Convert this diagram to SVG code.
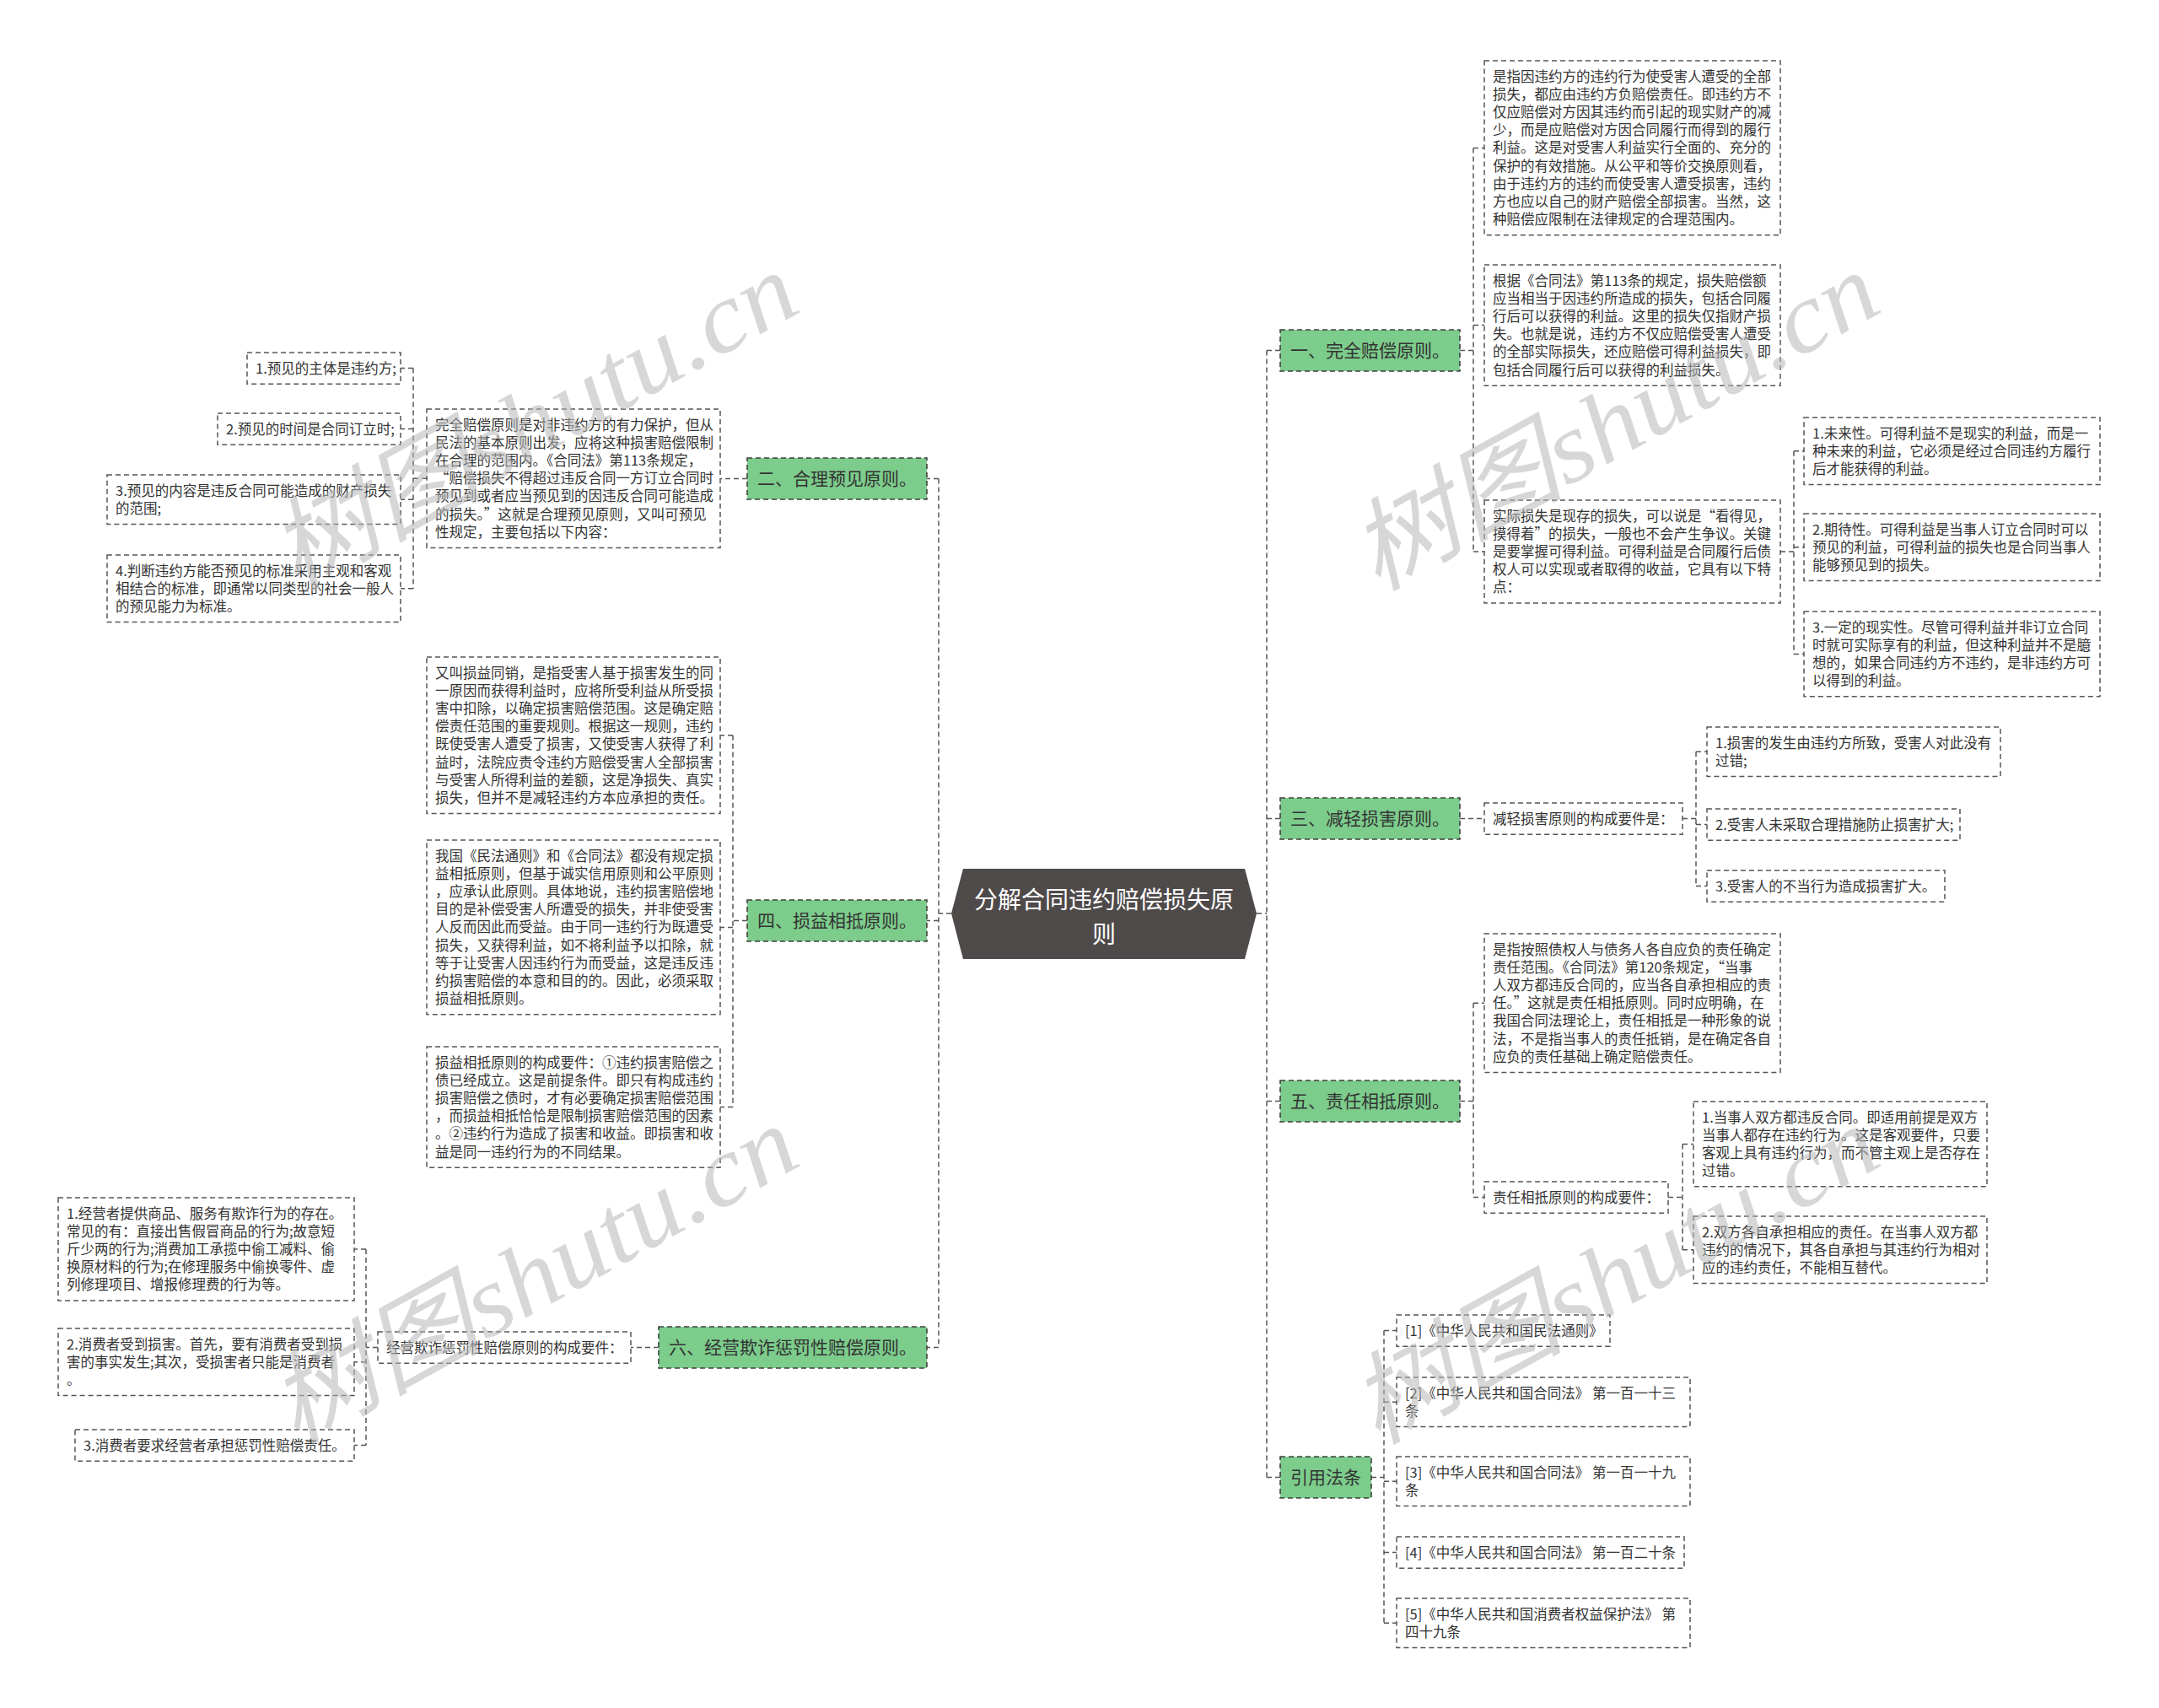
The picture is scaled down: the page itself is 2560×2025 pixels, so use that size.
<svg xmlns="http://www.w3.org/2000/svg" width="2560" height="2025" viewBox="0 0 2560 2025">
<style>
.bg{fill:#ffffff}
.g{fill:#7ccc8b;stroke:#3f3f3f;stroke-width:1.6;stroke-dasharray:6 4}
.b{fill:#ffffff;stroke:#555555;stroke-width:1.5;stroke-dasharray:6 4}
.c{fill:none;stroke:#555555;stroke-width:1.5;stroke-dasharray:6 4}
.t{font-family:"Noto Sans CJK SC","Noto Sans",sans-serif;font-size:16.5px;fill:#333333}
.gt{font-family:"Noto Sans CJK SC","Noto Sans",sans-serif;font-size:21px;fill:#333333}
.ct{font-family:"Noto Sans CJK SC","Noto Sans",sans-serif;font-size:28px;fill:#ffffff;text-anchor:middle}
.wm{font-family:"Liberation Serif","Noto Sans CJK SC",serif;font-style:italic;font-size:118px;fill:#b8b8b8;opacity:0.55}
</style>
<rect class="bg" x="0" y="0" width="2560" height="2025"/>

<g id="connectors">
<path class="c" d="M1490 1083H1502M1502 415.5V1751.5M1502 415.5H1518M1502 970.5H1518M1502 1305.5H1518M1502 1751.5H1518"/>
<path class="c" d="M1128 1083H1113M1113 567.5V1597.5M1113 567.5H1099M1113 1091.5H1099M1113 1597.5H1099"/>
<path class="c" d="M1731 415.5H1747M1747 175.4V654M1747 175.4H1760M1747 385.6H1760M1747 654H1760"/>
<path class="c" d="M2111 654H2127M2127 534.8V775.4M2127 534.8H2139M2127 648.8H2139M2127 775.4H2139"/>
<path class="c" d="M1731 970.5H1760"/>
<path class="c" d="M1995 970.6H2011M2011 891.2V1050.6M2011 891.2H2024M2011 977.6H2024M2011 1050.6H2024"/>
<path class="c" d="M1731 1305.5H1747M1747 1189.2V1419.6M1747 1189.2H1760M1747 1419.6H1760"/>
<path class="c" d="M1978 1419.6H1995M1995 1356.4V1481.8M1995 1356.4H2008M1995 1481.8H2008"/>
<path class="c" d="M1626 1751.5H1641M1641 1577.6V1924.2M1641 1577.6H1656M1641 1662.2H1656M1641 1756.2H1656M1641 1840.6H1656M1641 1924.2H1656"/>
<path class="c" d="M886 567.5H854"/>
<path class="c" d="M506 567.2H490M490 436.6V697.8M490 436.6H475M490 508.6H475M490 592.2H475M490 697.8H475"/>
<path class="c" d="M886 1091.5H869M869 871.8V1312.6M869 871.8H854M869 1099.4H854M869 1312.6H854"/>
<path class="c" d="M781 1597.5H748"/>
<path class="c" d="M448 1597.6H434M434 1481V1713.6M434 1481H420M434 1614.8H420M434 1713.6H420"/>
</g>

<g id="root">
<polygon points="1128,1083 1142,1030 1476,1030 1490,1083 1476,1137 1142,1137" fill="#4f4a4a"/>
<text class="ct" x="1309" y="1077">分解合同违约赔偿损失原</text>
<text class="ct" x="1309" y="1118">则</text>
</g>

<g id="n1">
<rect class="g" x="1518" y="391" width="213" height="49"/>
<text class="gt" x="1530" y="423">一、完全赔偿原则。</text>
</g>
<g id="n1a">
<rect class="b" x="1760" y="72" width="351" height="206.8"/>
<text class="t" x="1770" y="96.6">是指因违约方的违约行为使受害人遭受的全部</text>
<text class="t" x="1770" y="117.8">损失，都应由违约方负赔偿责任。即违约方不</text>
<text class="t" x="1770" y="139">仅应赔偿对方因其违约而引起的现实财产的减</text>
<text class="t" x="1770" y="160.2">少，而是应赔偿对方因合同履行而得到的履行</text>
<text class="t" x="1770" y="181.4">利益。这是对受害人利益实行全面的、充分的</text>
<text class="t" x="1770" y="202.6">保护的有效措施。从公平和等价交换原则看，</text>
<text class="t" x="1770" y="223.8">由于违约方的违约而使受害人遭受损害，违约</text>
<text class="t" x="1770" y="245">方也应以自己的财产赔偿全部损害。当然，这</text>
<text class="t" x="1770" y="266.2">种赔偿应限制在法律规定的合理范围内。</text>
</g>
<g id="n1b">
<rect class="b" x="1760" y="314" width="351" height="143.2"/>
<text class="t" x="1770" y="338.6">根据《合同法》第113条的规定，损失赔偿额</text>
<text class="t" x="1770" y="359.8">应当相当于因违约所造成的损失，包括合同履</text>
<text class="t" x="1770" y="381">行后可以获得的利益。这里的损失仅指财产损</text>
<text class="t" x="1770" y="402.2">失。也就是说，违约方不仅应赔偿受害人遭受</text>
<text class="t" x="1770" y="423.4">的全部实际损失，还应赔偿可得利益损失，即</text>
<text class="t" x="1770" y="444.6">包括合同履行后可以获得的利益损失。</text>
</g>
<g id="n1c">
<rect class="b" x="1760" y="593" width="351" height="122"/>
<text class="t" x="1770" y="617.6">实际损失是现存的损失，可以说是“看得见，</text>
<text class="t" x="1770" y="638.8">摸得着”的损失，一般也不会产生争议。关键</text>
<text class="t" x="1770" y="660">是要掌握可得利益。可得利益是合同履行后债</text>
<text class="t" x="1770" y="681.2">权人可以实现或者取得的收益，它具有以下特</text>
<text class="t" x="1770" y="702.4">点：</text>
</g>
<g id="n1c1">
<rect class="b" x="2139" y="495" width="351" height="79.6"/>
<text class="t" x="2149" y="519.6">1.未来性。可得利益不是现实的利益，而是一</text>
<text class="t" x="2149" y="540.8">种未来的利益，它必须是经过合同违约方履行</text>
<text class="t" x="2149" y="562">后才能获得的利益。</text>
</g>
<g id="n1c2">
<rect class="b" x="2139" y="609" width="351" height="79.6"/>
<text class="t" x="2149" y="633.6">2.期待性。可得利益是当事人订立合同时可以</text>
<text class="t" x="2149" y="654.8">预见的利益，可得利益的损失也是合同当事人</text>
<text class="t" x="2149" y="676">能够预见到的损失。</text>
</g>
<g id="n1c3">
<rect class="b" x="2139" y="725" width="351" height="100.8"/>
<text class="t" x="2149" y="749.6">3.一定的现实性。尽管可得利益并非订立合同</text>
<text class="t" x="2149" y="770.8">时就可实际享有的利益，但这种利益并不是臆</text>
<text class="t" x="2149" y="792">想的，如果合同违约方不违约，是非违约方可</text>
<text class="t" x="2149" y="813.2">以得到的利益。</text>
</g>

<g id="n3">
<rect class="g" x="1518" y="946" width="213" height="49"/>
<text class="gt" x="1530" y="978">三、减轻损害原则。</text>
</g>
<g id="n3a">
<rect class="b" x="1760" y="952" width="235" height="37.2"/>
<text class="t" x="1770" y="976.6">减轻损害原则的构成要件是：</text>
</g>
<g id="n3a1">
<rect class="b" x="2024" y="862" width="348" height="58.4"/>
<text class="t" x="2034" y="886.6">1.损害的发生由违约方所致，受害人对此没有</text>
<text class="t" x="2034" y="907.8">过错;</text>
</g>
<g id="n3a2">
<rect class="b" x="2024" y="959" width="300" height="37.2"/>
<text class="t" x="2034" y="983.6">2.受害人未采取合理措施防止损害扩大;</text>
</g>
<g id="n3a3">
<rect class="b" x="2024" y="1032" width="282" height="37.2"/>
<text class="t" x="2034" y="1056.6">3.受害人的不当行为造成损害扩大。</text>
</g>

<g id="n5">
<rect class="g" x="1518" y="1281" width="213" height="49"/>
<text class="gt" x="1530" y="1313">五、责任相抵原则。</text>
</g>
<g id="n5a">
<rect class="b" x="1760" y="1107" width="351" height="164.4"/>
<text class="t" x="1770" y="1131.6">是指按照债权人与债务人各自应负的责任确定</text>
<text class="t" x="1770" y="1152.8">责任范围。《合同法》第120条规定，“当事</text>
<text class="t" x="1770" y="1174">人双方都违反合同的，应当各自承担相应的责</text>
<text class="t" x="1770" y="1195.2">任。”这就是责任相抵原则。同时应明确，在</text>
<text class="t" x="1770" y="1216.4">我国合同法理论上，责任相抵是一种形象的说</text>
<text class="t" x="1770" y="1237.6">法，不是指当事人的责任抵销，是在确定各自</text>
<text class="t" x="1770" y="1258.8">应负的责任基础上确定赔偿责任。</text>
</g>
<g id="n5b">
<rect class="b" x="1760" y="1401" width="218" height="37.2"/>
<text class="t" x="1770" y="1425.6">责任相抵原则的构成要件：</text>
</g>
<g id="n5b1">
<rect class="b" x="2008" y="1306" width="348" height="100.8"/>
<text class="t" x="2018" y="1330.6">1.当事人双方都违反合同。即适用前提是双方</text>
<text class="t" x="2018" y="1351.8">当事人都存在违约行为。这是客观要件，只要</text>
<text class="t" x="2018" y="1373">客观上具有违约行为，而不管主观上是否存在</text>
<text class="t" x="2018" y="1394.2">过错。</text>
</g>
<g id="n5b2">
<rect class="b" x="2008" y="1442" width="348" height="79.6"/>
<text class="t" x="2018" y="1466.6">2.双方各自承担相应的责任。在当事人双方都</text>
<text class="t" x="2018" y="1487.8">违约的情况下，其各自承担与其违约行为相对</text>
<text class="t" x="2018" y="1509">应的违约责任，不能相互替代。</text>
</g>

<g id="n7">
<rect class="g" x="1518" y="1727" width="108" height="49"/>
<text class="gt" x="1530" y="1759">引用法条</text>
</g>
<g id="n7a">
<rect class="b" x="1656" y="1559" width="253" height="37.2"/>
<text class="t" x="1666" y="1583.6">[1]《中华人民共和国民法通则》</text>
</g>
<g id="n7b">
<rect class="b" x="1656" y="1633" width="348" height="58.4"/>
<text class="t" x="1666" y="1657.6">[2]《中华人民共和国合同法》 第一百一十三</text>
<text class="t" x="1666" y="1678.8">条</text>
</g>
<g id="n7c">
<rect class="b" x="1656" y="1727" width="348" height="58.4"/>
<text class="t" x="1666" y="1751.6">[3]《中华人民共和国合同法》 第一百一十九</text>
<text class="t" x="1666" y="1772.8">条</text>
</g>
<g id="n7d">
<rect class="b" x="1656" y="1822" width="341" height="37.2"/>
<text class="t" x="1666" y="1846.6">[4]《中华人民共和国合同法》 第一百二十条</text>
</g>
<g id="n7e">
<rect class="b" x="1656" y="1895" width="348" height="58.4"/>
<text class="t" x="1666" y="1919.6">[5]《中华人民共和国消费者权益保护法》 第</text>
<text class="t" x="1666" y="1940.8">四十九条</text>
</g>

<g id="n2">
<rect class="g" x="886" y="543" width="213" height="49"/>
<text class="gt" x="898" y="575">二、合理预见原则。</text>
</g>
<g id="n2a">
<rect class="b" x="506" y="485" width="348" height="164.4"/>
<text class="t" x="516" y="509.6">完全赔偿原则是对非违约方的有力保护，但从</text>
<text class="t" x="516" y="530.8">民法的基本原则出发，应将这种损害赔偿限制</text>
<text class="t" x="516" y="552">在合理的范围内。《合同法》第113条规定，</text>
<text class="t" x="516" y="573.2">“赔偿损失不得超过违反合同一方订立合同时</text>
<text class="t" x="516" y="594.4">预见到或者应当预见到的因违反合同可能造成</text>
<text class="t" x="516" y="615.6">的损失。”这就是合理预见原则，又叫可预见</text>
<text class="t" x="516" y="636.8">性规定，主要包括以下内容：</text>
</g>
<g id="n2a1">
<rect class="b" x="293" y="418" width="182" height="37.2"/>
<text class="t" x="303" y="442.6">1.预见的主体是违约方;</text>
</g>
<g id="n2a2">
<rect class="b" x="258" y="490" width="217" height="37.2"/>
<text class="t" x="268" y="514.6">2.预见的时间是合同订立时;</text>
</g>
<g id="n2a3">
<rect class="b" x="127" y="563" width="348" height="58.4"/>
<text class="t" x="137" y="587.6">3.预见的内容是违反合同可能造成的财产损失</text>
<text class="t" x="137" y="608.8">的范围;</text>
</g>
<g id="n2a4">
<rect class="b" x="127" y="658" width="348" height="79.6"/>
<text class="t" x="137" y="682.6">4.判断违约方能否预见的标准采用主观和客观</text>
<text class="t" x="137" y="703.8">相结合的标准，即通常以同类型的社会一般人</text>
<text class="t" x="137" y="725">的预见能力为标准。</text>
</g>

<g id="n4">
<rect class="g" x="886" y="1067" width="213" height="49"/>
<text class="gt" x="898" y="1099">四、损益相抵原则。</text>
</g>
<g id="n4a">
<rect class="b" x="506" y="779" width="348" height="185.6"/>
<text class="t" x="516" y="803.6">又叫损益同销，是指受害人基于损害发生的同</text>
<text class="t" x="516" y="824.8">一原因而获得利益时，应将所受利益从所受损</text>
<text class="t" x="516" y="846">害中扣除，以确定损害赔偿范围。这是确定赔</text>
<text class="t" x="516" y="867.2">偿责任范围的重要规则。根据这一规则，违约</text>
<text class="t" x="516" y="888.4">既使受害人遭受了损害，又使受害人获得了利</text>
<text class="t" x="516" y="909.6">益时，法院应责令违约方赔偿受害人全部损害</text>
<text class="t" x="516" y="930.8">与受害人所得利益的差额，这是净损失、真实</text>
<text class="t" x="516" y="952">损失，但并不是减轻违约方本应承担的责任。</text>
</g>
<g id="n4b">
<rect class="b" x="506" y="996" width="348" height="206.8"/>
<text class="t" x="516" y="1020.6">我国《民法通则》和《合同法》都没有规定损</text>
<text class="t" x="516" y="1041.8">益相抵原则，但基于诚实信用原则和公平原则</text>
<text class="t" x="516" y="1063">，应承认此原则。具体地说，违约损害赔偿地</text>
<text class="t" x="516" y="1084.2">目的是补偿受害人所遭受的损失，并非使受害</text>
<text class="t" x="516" y="1105.4">人反而因此而受益。由于同一违约行为既遭受</text>
<text class="t" x="516" y="1126.6">损失，又获得利益，如不将利益予以扣除，就</text>
<text class="t" x="516" y="1147.8">等于让受害人因违约行为而受益，这是违反违</text>
<text class="t" x="516" y="1169">约损害赔偿的本意和目的的。因此，必须采取</text>
<text class="t" x="516" y="1190.2">损益相抵原则。</text>
</g>
<g id="n4c">
<rect class="b" x="506" y="1241" width="348" height="143.2"/>
<text class="t" x="516" y="1265.6">损益相抵原则的构成要件：①违约损害赔偿之</text>
<text class="t" x="516" y="1286.8">债已经成立。这是前提条件。即只有构成违约</text>
<text class="t" x="516" y="1308">损害赔偿之债时，才有必要确定损害赔偿范围</text>
<text class="t" x="516" y="1329.2">，而损益相抵恰恰是限制损害赔偿范围的因素</text>
<text class="t" x="516" y="1350.4">。②违约行为造成了损害和收益。即损害和收</text>
<text class="t" x="516" y="1371.6">益是同一违约行为的不同结果。</text>
</g>

<g id="n6">
<rect class="g" x="781" y="1573" width="318" height="49"/>
<text class="gt" x="793" y="1605">六、经营欺诈惩罚性赔偿原则。</text>
</g>
<g id="n6a">
<rect class="b" x="448" y="1579" width="300" height="37.2"/>
<text class="t" x="458" y="1603.6">经营欺诈惩罚性赔偿原则的构成要件：</text>
</g>
<g id="n6a1">
<rect class="b" x="69" y="1420" width="351" height="122"/>
<text class="t" x="79" y="1444.6">1.经营者提供商品、服务有欺诈行为的存在。</text>
<text class="t" x="79" y="1465.8">常见的有：直接出售假冒商品的行为;故意短</text>
<text class="t" x="79" y="1487">斤少两的行为;消费加工承揽中偷工减料、偷</text>
<text class="t" x="79" y="1508.2">换原材料的行为;在修理服务中偷换零件、虚</text>
<text class="t" x="79" y="1529.4">列修理项目、增报修理费的行为等。</text>
</g>
<g id="n6a2">
<rect class="b" x="69" y="1575" width="351" height="79.6"/>
<text class="t" x="79" y="1599.6">2.消费者受到损害。首先，要有消费者受到损</text>
<text class="t" x="79" y="1620.8">害的事实发生;其次，受损害者只能是消费者</text>
<text class="t" x="79" y="1642">。</text>
</g>
<g id="n6a3">
<rect class="b" x="89" y="1695" width="331" height="37.2"/>
<text class="t" x="99" y="1719.6">3.消费者要求经营者承担惩罚性赔偿责任。</text>
</g>

<g id="watermark">
<text class="wm" textLength="690" lengthAdjust="spacingAndGlyphs" transform="translate(350,702) rotate(-29)">树图shutu.cn</text>
<text class="wm" textLength="690" lengthAdjust="spacingAndGlyphs" transform="translate(1632,702) rotate(-29)">树图shutu.cn</text>
<text class="wm" textLength="690" lengthAdjust="spacingAndGlyphs" transform="translate(350,1714) rotate(-29)">树图shutu.cn</text>
<text class="wm" textLength="690" lengthAdjust="spacingAndGlyphs" transform="translate(1632,1714) rotate(-29)">树图shutu.cn</text>
</g>
</svg>
